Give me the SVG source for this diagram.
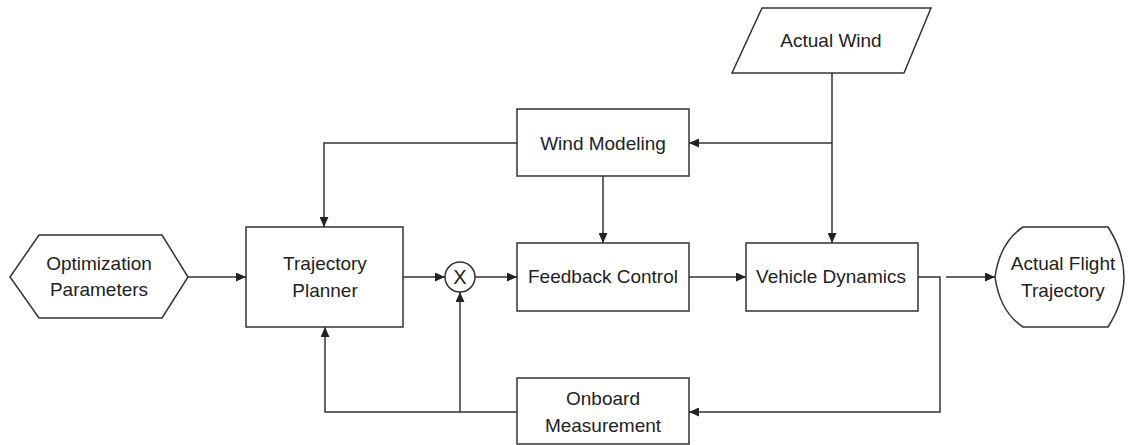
<svg xmlns="http://www.w3.org/2000/svg" width="1128" height="445" viewBox="0 0 1128 445">
<defs>
<marker id="arr" markerWidth="11" markerHeight="9" refX="10" refY="4.5" orient="auto" markerUnits="userSpaceOnUse">
<path d="M0,0 L10,4.5 L0,9 z" fill="#222"/>
</marker>
<style>
.shape{fill:#fff;stroke:#333;stroke-width:1.5}
.lbl{font-family:"Liberation Sans",Arial,sans-serif;font-size:19px;fill:#222;text-anchor:middle}
.ln{fill:none;stroke:#333;stroke-width:1.5}
</style>
</defs>
<rect width="1128" height="445" fill="#fff"/>
<g id="optimization-parameters">
<polygon class="shape" points="10,277 39,235 162,235 188,277 162,318 39,318"/>
<text class="lbl" x="99" y="270">Optimization</text>
<text class="lbl" x="99" y="296">Parameters</text>
</g>
<g id="trajectory-planner">
<rect class="shape" x="246" y="227" width="157" height="100"/>
<text class="lbl" x="325" y="270">Trajectory</text>
<text class="lbl" x="325" y="297">Planner</text>
</g>
<g id="multiplier">
<circle class="shape" cx="460" cy="277" r="15"/>
<text class="lbl" x="460" y="284" style="font-size:20px">X</text>
</g>
<g id="feedback-control">
<rect class="shape" x="517" y="243" width="172" height="68"/>
<text class="lbl" x="603" y="283">Feedback Control</text>
</g>
<g id="vehicle-dynamics">
<rect class="shape" x="746" y="243" width="172" height="68"/>
<text class="lbl" x="831" y="283">Vehicle Dynamics</text>
</g>
<g id="wind-modeling">
<rect class="shape" x="517" y="109" width="172" height="67"/>
<text class="lbl" x="603" y="150">Wind Modeling</text>
</g>
<g id="actual-wind">
<polygon class="shape" points="762,8 931,8 904,73 732,73"/>
<text class="lbl" x="831" y="47">Actual Wind</text>
</g>
<g id="onboard-measurement">
<rect class="shape" x="517" y="378" width="172" height="66"/>
<text class="lbl" x="603" y="405">Onboard</text>
<text class="lbl" x="603" y="432">Measurement</text>
</g>
<g id="actual-flight-trajectory">
<path class="shape" d="M1023,227 L1108,227 Q1140,277 1108,327 L1023,327 Q1000,312 995,277 Q1000,242 1023,227 Z"/>
<text class="lbl" x="1063" y="270">Actual Flight</text>
<text class="lbl" x="1063" y="297">Trajectory</text>
</g>
<g id="connectors">
<line class="ln" x1="188" y1="277" x2="246" y2="277" marker-end="url(#arr)"/>
<line class="ln" x1="403" y1="277" x2="445" y2="277" marker-end="url(#arr)"/>
<line class="ln" x1="475" y1="277" x2="517" y2="277" marker-end="url(#arr)"/>
<line class="ln" x1="689" y1="277" x2="746" y2="277" marker-end="url(#arr)"/>
<line class="ln" x1="832" y1="73" x2="832" y2="243" marker-end="url(#arr)"/>
<line class="ln" x1="832" y1="143" x2="689" y2="143" marker-end="url(#arr)"/>
<polyline class="ln" points="517,143 324,143 324,227" marker-end="url(#arr)"/>
<line class="ln" x1="603" y1="176" x2="603" y2="243" marker-end="url(#arr)"/>
<polyline class="ln" points="918,277 940,277 940,412 689,412" marker-end="url(#arr)"/>
<line class="ln" x1="946" y1="277" x2="995" y2="277" marker-end="url(#arr)"/>
<polyline class="ln" points="517,412 325,412 325,327" marker-end="url(#arr)"/>
<line class="ln" x1="460" y1="412" x2="460" y2="292" marker-end="url(#arr)"/>
</g>
</svg>
